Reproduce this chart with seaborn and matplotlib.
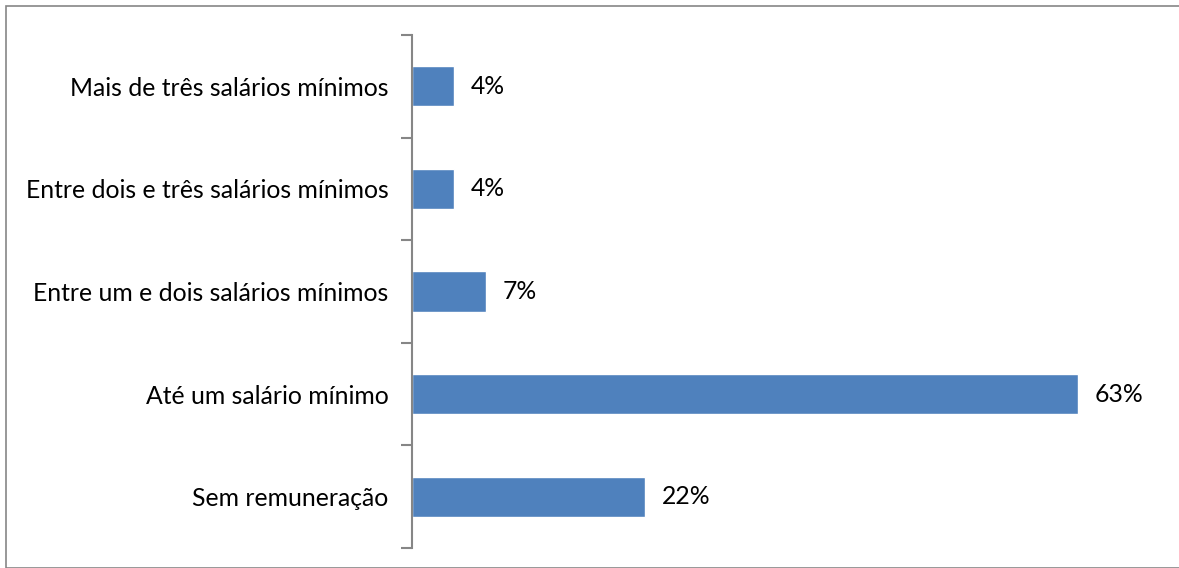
import matplotlib
matplotlib.use("Agg")
import matplotlib.pyplot as plt
import seaborn as sns
import pandas as pd
from matplotlib.patches import Rectangle

categories = ["Mais de três salários mínimos",
              "Entre dois e três salários mínimos",
              "Entre um e dois salários mínimos",
              "Até um salário mínimo",
              "Sem remuneração"]
values = [4, 4, 7, 63, 22]
value_labels = ["4%", "4%", "7%", "63%", "22%"]

sns.set_style("white")
plt.rcParams['font.family'] = ['Lato', 'DejaVu Sans']

df = pd.DataFrame({"cat": categories, "val": values})

fig = plt.figure(figsize=(11.79, 5.68), dpi=100)
ax = fig.add_axes([412/1179, 1-548/568, (1152-412)/1179, (548-35)/568])
sns.barplot(data=df, x="val", y="cat", orient="h", color="#4F81BD",
            saturation=1, width=0.39, ax=ax, order=categories)

ax.set_xlim(0, 70)
ax.set_ylim(len(categories)-0.5, -0.5)
ax.set_xlabel("")
ax.set_ylabel("")
ax.set_xticks([])
for s in ["top", "right", "bottom"]:
    ax.spines[s].set_visible(False)
ax.spines["left"].set_color("#868686")
ax.spines["left"].set_linewidth(1.5)
ax.set_yticks([i - 0.5 for i in range(len(categories)+1)], minor=True)
ax.tick_params(axis="y", which="minor", length=8, width=1.5, color="#868686", left=True)
ax.tick_params(axis="y", which="major", length=0, pad=17, labelsize=17.8, labelcolor="black")

for i, (v, lab) in enumerate(zip(values, value_labels)):
    ax.text(v + 1.6, i, lab, va="center", ha="left", fontsize=17.8, color="black")

fig.patches.append(Rectangle((6/1179, 0), 1 - 6/1179 + 0.01, 1 - 6/568, transform=fig.transFigure,
                             fill=False, edgecolor="#868686", linewidth=1.2))

fig.savefig("out.png", dpi=100)
